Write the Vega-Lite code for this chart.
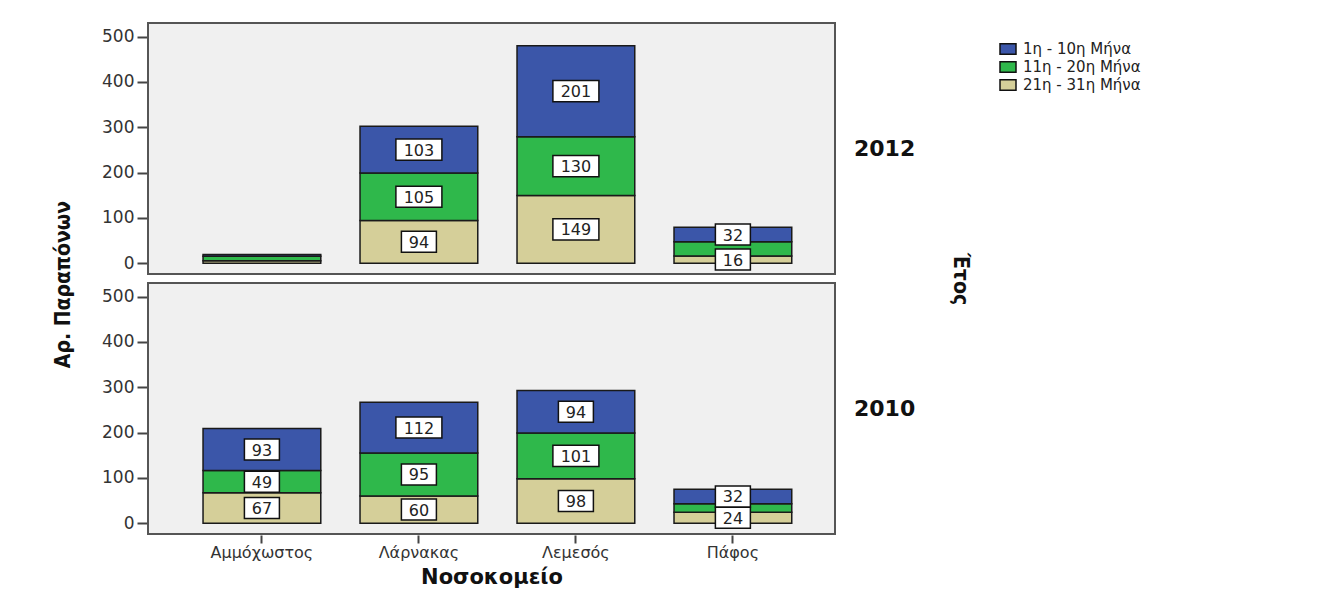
{
  "$schema": "https://vega.github.io/schema/vega-lite/v6.json",
  "background": "white",
  "padding": {"left": 52, "top": 22, "right": 10, "bottom": 5},
  "title": {
    "text": "Αρ. Παραπόνων", "orient": "left", "anchor": "middle", "font": "DejaVu Sans Condensed, Roboto, sans-serif",
    "fontSize": 21, "fontWeight": "bold", "color": "#111", "offset": 28, "dx": 20
  },
  "data": {"values": [
    {"year": "2012", "hospital": "Αμμόχωστος", "period": "21η - 31η Μήνα", "ord": 1, "count": 5, "show": false},
    {"year": "2012", "hospital": "Αμμόχωστος", "period": "11η - 20η Μήνα", "ord": 2, "count": 10, "show": false},
    {"year": "2012", "hospital": "Αμμόχωστος", "period": "1η - 10η Μήνα", "ord": 3, "count": 4, "show": false},
    {"year": "2012", "hospital": "Λάρνακας", "period": "21η - 31η Μήνα", "ord": 1, "count": 94, "show": true},
    {"year": "2012", "hospital": "Λάρνακας", "period": "11η - 20η Μήνα", "ord": 2, "count": 105, "show": true},
    {"year": "2012", "hospital": "Λάρνακας", "period": "1η - 10η Μήνα", "ord": 3, "count": 103, "show": true},
    {"year": "2012", "hospital": "Λεμεσός", "period": "21η - 31η Μήνα", "ord": 1, "count": 149, "show": true},
    {"year": "2012", "hospital": "Λεμεσός", "period": "11η - 20η Μήνα", "ord": 2, "count": 130, "show": true},
    {"year": "2012", "hospital": "Λεμεσός", "period": "1η - 10η Μήνα", "ord": 3, "count": 201, "show": true},
    {"year": "2012", "hospital": "Πάφος", "period": "21η - 31η Μήνα", "ord": 1, "count": 16, "show": true},
    {"year": "2012", "hospital": "Πάφος", "period": "11η - 20η Μήνα", "ord": 2, "count": 31, "show": false},
    {"year": "2012", "hospital": "Πάφος", "period": "1η - 10η Μήνα", "ord": 3, "count": 32, "show": true},
    {"year": "2010", "hospital": "Αμμόχωστος", "period": "21η - 31η Μήνα", "ord": 1, "count": 67, "show": true},
    {"year": "2010", "hospital": "Αμμόχωστος", "period": "11η - 20η Μήνα", "ord": 2, "count": 49, "show": true},
    {"year": "2010", "hospital": "Αμμόχωστος", "period": "1η - 10η Μήνα", "ord": 3, "count": 93, "show": true},
    {"year": "2010", "hospital": "Λάρνακας", "period": "21η - 31η Μήνα", "ord": 1, "count": 60, "show": true},
    {"year": "2010", "hospital": "Λάρνακας", "period": "11η - 20η Μήνα", "ord": 2, "count": 95, "show": true},
    {"year": "2010", "hospital": "Λάρνακας", "period": "1η - 10η Μήνα", "ord": 3, "count": 112, "show": true},
    {"year": "2010", "hospital": "Λεμεσός", "period": "21η - 31η Μήνα", "ord": 1, "count": 98, "show": true},
    {"year": "2010", "hospital": "Λεμεσός", "period": "11η - 20η Μήνα", "ord": 2, "count": 101, "show": true},
    {"year": "2010", "hospital": "Λεμεσός", "period": "1η - 10η Μήνα", "ord": 3, "count": 94, "show": true},
    {"year": "2010", "hospital": "Πάφος", "period": "21η - 31η Μήνα", "ord": 1, "count": 24, "show": true},
    {"year": "2010", "hospital": "Πάφος", "period": "11η - 20η Μήνα", "ord": 2, "count": 19, "show": false},
    {"year": "2010", "hospital": "Πάφος", "period": "1η - 10η Μήνα", "ord": 3, "count": 32, "show": true}
  ]},
  "transform": [
    {"stack": "count", "groupby": ["year", "hospital"], "sort": [{"field": "ord"}], "as": ["y0", "y1"]},
    {"calculate": "(datum.y0 + datum.y1) / 2", "as": "ymid"}
  ],
  "facet": {
    "row": {
      "field": "year", "type": "nominal", "sort": "descending", "title": "Έτος",
      "header": {
        "labelOrient": "right", "labelAngle": 0, "labelFontSize": 22, "labelFontWeight": "bold",
        "labelFont": "DejaVu Sans", "labelColor": "#111", "labelPadding": 18, "labelBaseline": "middle",
        "titleOrient": "right", "titleAngle": 90, "titleFontSize": 21, "titleFontWeight": "bold",
        "titleFont": "DejaVu Sans Condensed, Roboto, sans-serif", "titleColor": "#111", "titlePadding": 24
      }
    }
  },
  "spacing": 7,
  "spec": {
    "width": 687,
    "height": 251,
    "encoding": {
      "x": {
        "field": "hospital", "type": "nominal", "sort": ["Αμμόχωστος", "Λάρνακας", "Λεμεσός", "Πάφος"],
        "scale": {"paddingInner": 0.25, "paddingOuter": 0.313, "align": 0.56},
        "axis": {
          "title": "Νοσοκομείο", "labelAngle": 0, "labelFont": "DejaVu Sans", "labelFontSize": 16, "labelColor": "#333",
          "tickSize": 8, "tickColor": "#444", "tickWidth": 2, "labelPadding": 1, "domain": false,
          "titleFont": "DejaVu Sans", "titleFontSize": 21, "titleFontWeight": "bold", "titleColor": "#111", "titlePadding": 6
        }
      }
    },
    "layer": [
      {
        "mark": {"type": "bar", "stroke": "#1a1a1a", "strokeWidth": 1.5},
        "encoding": {
          "y": {
            "field": "y0", "type": "quantitative",
            "scale": {"domain": [-24, 530], "nice": false, "zero": false},
            "axis": {
              "title": null, "values": [0, 100, 200, 300, 400, 500], "grid": false, "domain": false,
              "labelFont": "DejaVu Sans", "labelFontSize": 17, "labelColor": "#333", "tickSize": 10, "tickColor": "#444", "tickWidth": 2,
              "labelPadding": 3
            }
          },
          "y2": {"field": "y1"},
          "color": {
            "field": "period", "type": "nominal",
            "scale": {"domain": ["1η - 10η Μήνα", "11η - 20η Μήνα", "21η - 31η Μήνα"], "range": ["#3b56a9", "#2fb84b", "#d5cf99"]},
            "legend": {
              "title": null, "orient": "none", "legendX": 851, "legendY": 17,
              "symbolType": "M-1,-0.65L1,-0.65L1,0.65L-1,0.65Z", "symbolSize": 256, "symbolStrokeColor": "#111",
              "symbolStrokeWidth": 1.5, "symbolOpacity": 1, "labelFont": "DejaVu Sans", "labelFontSize": 15, "labelColor": "#222",
              "rowPadding": -3, "labelOffset": 6
            }
          }
        }
      },
      {
        "transform": [{"filter": "datum.show"}],
        "mark": {"type": "point", "filled": true, "fill": "white", "stroke": "#111", "strokeWidth": 1.5, "opacity": 1},
        "encoding": {
          "y": {"field": "ymid", "type": "quantitative"},
          "shape": {
            "condition": {"test": "datum.count >= 100", "value": "M-1,-0.46L1,-0.46L1,0.46L-1,0.46Z"},
            "value": "M-1,-0.6L1,-0.6L1,0.6L-1,0.6Z"
          },
          "size": {"condition": {"test": "datum.count >= 100", "value": 2116}, "value": 1225}
        }
      },
      {
        "transform": [{"filter": "datum.show"}],
        "mark": {"type": "text", "font": "DejaVu Sans", "fontSize": 16, "color": "#222", "baseline": "middle", "dy": 1},
        "encoding": {
          "y": {"field": "ymid", "type": "quantitative"},
          "text": {"field": "count", "type": "quantitative"}
        }
      }
    ]
  },
  "config": {
    "view": {"fill": "#f0f0f0", "stroke": "#555", "strokeWidth": 2},
    "axis": {"grid": false}
  }
}
